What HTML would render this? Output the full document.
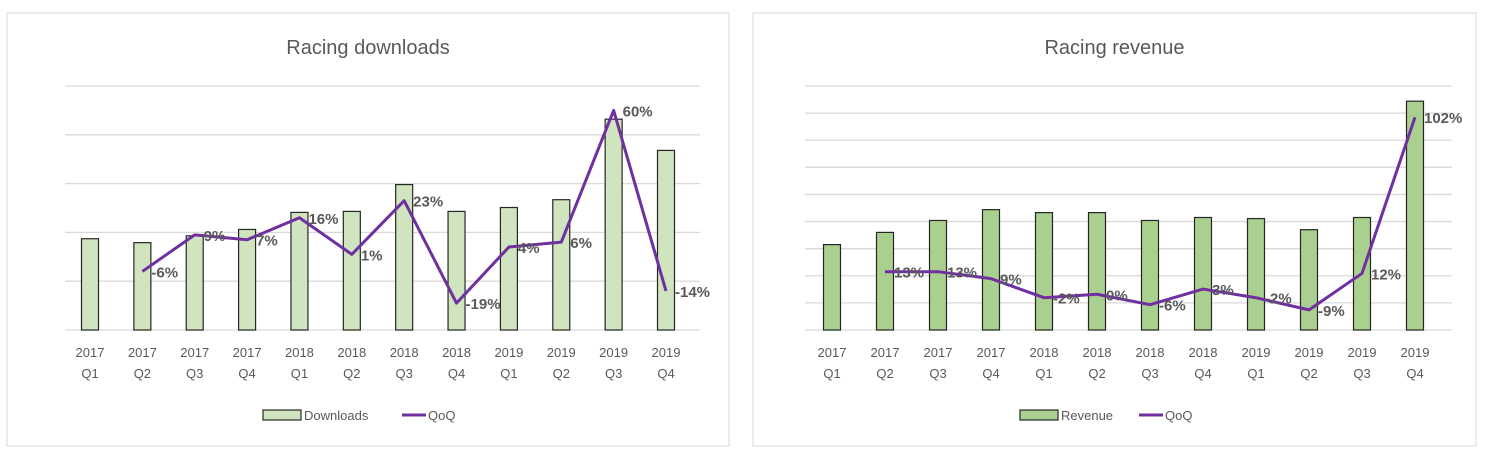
<!DOCTYPE html>
<html><head><meta charset="utf-8"><style>
body{margin:0;background:#fff;width:1488px;height:462px;overflow:hidden;font-family:"Liberation Sans",sans-serif;}
svg{position:absolute;left:0;top:0}
</style></head><body>
<svg id="c" width="1488" height="462"></svg>
<script>
const categories=["2017 Q1","2017 Q2","2017 Q3","2017 Q4","2018 Q1","2018 Q2","2018 Q3","2018 Q4","2019 Q1","2019 Q2","2019 Q3","2019 Q4"];
const downloads=[1.87,1.79,1.93,2.06,2.41,2.43,2.98,2.43,2.51,2.67,4.32,3.68];
const downloadsQoQ=[null,-6,9,7,16,1,23,-19,4,6,60,-14];
const revenue=[3.15,3.6,4.04,4.44,4.33,4.33,4.04,4.15,4.11,3.7,4.15,8.44];
const revenueQoQ=[null,13,13,9,-2,0,-6,3,-2,-9,12,102];
const NS="http://www.w3.org/2000/svg";
const svg=document.getElementById('c');
function mk(t,a,p){const e=document.createElementNS(NS,t);for(const k in a)e.setAttribute(k,a[k]);(p||svg).appendChild(e);return e;}
function chart(cfg){
  const g=mk('g',{});
  
  
  const fr=mk('rect',{x:cfg.px,y:13,width:cfg.pw,height:433,fill:'#fff',stroke:'#d9d9d9','stroke-width':1},g);
  
  
  const t=mk('text',{x:cfg.px+cfg.pw/2,y:54,'text-anchor':'middle','font-size':20,fill:'#595959'},g);
  t.textContent=cfg.title;
  
  
  const top=86,bot=330;
  const y=v=>bot-(v-0)/cfg.ymax*(bot-top);
  const y2=v=>bot-(v-cfg.y2min)/(cfg.y2max-cfg.y2min)*(bot-top);
  const step=(cfg.x1-cfg.x0)/(categories.length-1);
  const x=i=>cfg.x0+i*step;
  for(let k=0;k<=cfg.ymax;k++){
    const l=mk('line',{x1:cfg.gl,x2:cfg.gr,y1:y(k),y2:y(k),stroke:'#d9d9d9','stroke-width':1.3},g);
    
    
  }
  cfg.bars.forEach((v,i)=>{
    const r=mk('rect',{x:x(i)-8.5,y:y(v),width:17,height:bot-y(v),fill:cfg.fill,stroke:'#262626','stroke-width':1.2},g);
    
    
  });
  categories.forEach((c,i)=>{
    const p=c.split(' ');
    const a=mk('text',{x:x(i),y:357,'text-anchor':'middle','font-size':13,fill:'#595959'},g);a.textContent=p[0];
    
    
    const b=mk('text',{x:x(i),y:378,'text-anchor':'middle','font-size':13,fill:'#595959'},g);b.textContent=p[1];
    
    
  });
  let d='';
  cfg.qoq.forEach((v,i)=>{if(v===null)return;d+=(d?'L':'M')+x(i)+','+y2(v);});
  const pl=mk('path',{d:d,fill:'none',stroke:'#7030a0','stroke-width':3,'stroke-linejoin':'round'},g);
  
  
  cfg.qoq.forEach((v,i)=>{if(v===null)return;
    const l=mk('text',{x:x(i)+9,y:y2(v)+6,'font-size':15,'font-weight':'bold',fill:'#595959'},g);
    l.textContent=v+'%';
    
    
  });
  const lg=mk('g',{},g);
  
  
  const lx=cfg.lx;
  mk('rect',{x:lx,y:410,width:38,height:10,fill:cfg.fill,stroke:'#262626','stroke-width':1.2},lg);
  const lt=mk('text',{x:lx+41,y:420,'font-size':13,fill:'#595959'},lg);lt.textContent=cfg.series;
  
  
  const lx2=lx+41+cfg.sw+16;
  mk('line',{x1:lx2,x2:lx2+24,y1:415,y2:415,stroke:'#7030a0','stroke-width':3},lg);
  const lq=mk('text',{x:lx2+26,y:420,'font-size':13,fill:'#595959'},lg);lq.textContent='QoQ';
  
  
}
chart({name:'downloads-chart',title:'Racing downloads',px:7,pw:722,x0:90,x1:666,gl:65,gr:700,ymax:5,y2min:-30,y2max:70,bars:downloads,qoq:downloadsQoQ,fill:'#d0e4bf',lx:263,series:'Downloads',sw:82});
chart({name:'revenue-chart',title:'Racing revenue',px:753,pw:723,x0:832,x1:1415,gl:805,gr:1452,ymax:9,y2min:-20.6,y2max:120,bars:revenue,qoq:revenueQoQ,fill:'#a9d08e',lx:1020,series:'Revenue',sw:62});
</script>
</body></html>
